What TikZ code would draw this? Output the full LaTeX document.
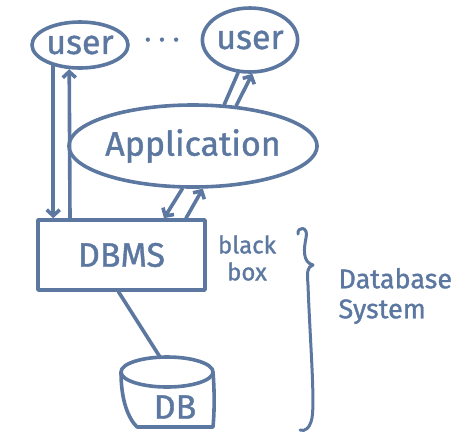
\documentclass[tikz,border=0pt]{standalone}
\usepackage{fontspec}
\setmainfont{Fira Sans}
\newfontfamily\handfont[FakeBold=1.2]{Fira Sans}
\usetikzlibrary{shapes.geometric,arrows.meta}
\definecolor{inkblue}{HTML}{5C78A0}
\tikzset{
  ink/.style={draw=inkblue, line width=3.6pt, line cap=round, line join=round},
  bubble/.style={ink, ellipse, inner sep=0pt},
  arr/.style={ink, -{Straight Barb[length=6pt,width=13pt]}},
  hand/.style={text=inkblue, font=\handfont\fontsize{34}{36}\selectfont}
}
\begin{document}
\begin{tikzpicture}[x=1pt, y=-1pt]
\useasboundingbox (0,0) rectangle (474,440);
\node[bubble, hand, minimum width=96pt, minimum height=46pt] (user1) at (80,45) {user};
\node[bubble, hand, minimum width=94pt, minimum height=64pt] (user2) at (250,40) {user};
\node[hand, font=\handfont\fontsize{28}{30}\selectfont] (dots) at (162,43) {· · ·};
\node[bubble, hand, minimum width=194pt, minimum height=82pt] (app) at (193,146) {Application};
\node[ink, hand, rectangle, minimum width=167pt, minimum height=70pt] (dbms) at (121.5,255) {DBMS};
\draw[arr] (user1.218) -- (user1.218 |- dbms.north);
\draw[arr] (70,0 |- dbms.north) -- (user1.246);
\draw[arr] (app.256) -- (164,0 |- dbms.north);
\draw[arr] (186,0 |- dbms.north) -- (app.283);
\draw[ink] (app.53) -- (user2.250);
\draw[arr] (app.43) -- (user2.274);
\draw[ink] (167,372) ellipse [x radius=46, y radius=15];
\draw[ink] (121,372) .. controls (121,400) and (128,418) .. (137,427) -- (213,427) .. controls (215,405) and (214,385) .. (213,372);
\coordinate (dbtop) at (160,357);
\node[hand] (db) at (175,407) {DB};
\draw[ink] ([xshift=-3pt]dbms.south) -- (dbtop);
\node[hand, font=\handfont\fontsize{24}{27}\selectfont, align=center] (bbox) at (247,258) {black\\box};
\draw[ink, line width=3pt] (298,234) .. controls (297,226) and (309,226) .. (306,238) .. controls (304,248) and (302,262) .. (313,265) .. controls (307,267) and (307,272) .. (308,285) .. controls (310,340) and (315,400) .. (312,418) .. controls (310,428) and (305,432) .. (300,430);
\node[hand, font=\handfont\fontsize{27}{30}\selectfont, align=left, anchor=west] (dbsys) at (335,296) {Database\\System};
\end{tikzpicture}
\end{document}
